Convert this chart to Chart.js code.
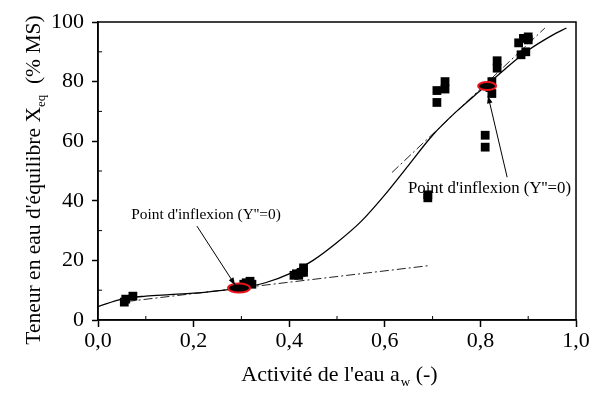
<!DOCTYPE html>
<html><head><meta charset="utf-8">
<script src="https://cdn.jsdelivr.net/npm/chart.js@4/dist/chart.umd.min.js"></script>
<style>html,body{margin:0;padding:0;background:#fff}#wrap{width:592px;height:398px}</style>
</head><body><div id="wrap"><canvas id="c" width="592" height="398"></canvas></div>
<script>
// Experimental points (aw, Xeq)
const pointsX = [0.055,0.058,0.073, 0.305,0.31,0.318,0.322, 0.41,0.415,0.42,0.425,0.43,0.43, 0.69,0.69, 0.709,0.709,0.726,0.726, 0.81,0.81,0.824,0.824,0.82, 0.835,0.835, 0.88,0.885,0.89,0.895,0.9,0.9];
const pointsY = [6,7,8, 12,12.5,13,12, 15,15.5,15,16,17.5,16, 41,42, 77,73,80,77.5, 62,58,80,76,78, 87,84.5, 93,89,94.5,90,95,94];
// Fitted curve
const curveX = [0,0.05,0.1,0.15,0.2,0.25,0.3,0.35,0.4,0.45,0.5,0.55,0.6,0.65,0.7,0.75,0.8,0.85,0.9,0.95,0.98];
const curveY = [4.5,7,8,8.5,9,9.8,10.8,12.5,15.5,20,26,33,42,52,62,70,77,84,90.5,95.5,98];
// Tangent lines at the inflection points
const tangent1X = [0.06,0.69];
const tangent1Y = [6.2,18.2];
const tangent2X = [0.615,0.935];
const tangent2Y = [49.5,98];
// Inflection points
const inflX = [0.295,0.814];
const inflY = [10.7,78.5];
// Annotation labels
const annoText = ["Point d'inflexion (Y''=0)","Point d'inflexion (Y''=0)"];
const annoPosX = [0.226,0.819];
const annoPosY = [35.2,44.2];
const annoSize = [15.4,16.8];
const arrowTailX = [0.207,0.856];
const arrowTailY = [31.5,47.9];
const arrowHeadX = [0.287,0.816];
const arrowHeadY = [11.7,75.2];
const xTicks = [0,0.2,0.4,0.6,0.8,1.0];
const yTicks = [0,20,40,60,80,100];

const FONT = "'Liberation Serif','Times New Roman',serif";
const toXY = (xs, ys) => xs.map((x,i)=>({x, y: ys[i]}));

const deco = {
  id:'deco',
  afterDatasetsDraw(chart){
    const {ctx, chartArea:a, scales:{x, y}} = chart;
    ctx.save();
    // frame
    ctx.strokeStyle='#000'; ctx.lineWidth=1.5;
    ctx.strokeRect(a.left, a.top, a.right-a.left, a.bottom-a.top);
    // minor ticks (inside)
    ctx.lineWidth=1;
    for(let v=0.1; v<1; v+=0.2){ const px=x.getPixelForValue(v); ctx.beginPath(); ctx.moveTo(px,a.bottom); ctx.lineTo(px,a.bottom-4); ctx.stroke(); }
    for(let v=10; v<100; v+=20){ const py=y.getPixelForValue(v); ctx.beginPath(); ctx.moveTo(a.left,py); ctx.lineTo(a.left+4,py); ctx.stroke(); }
    // ellipses
    const ew=[22,18], eh=[9,8];
    inflX.forEach((vx,i)=>{
      const px=x.getPixelForValue(vx), py=y.getPixelForValue(inflY[i]);
      ctx.beginPath(); ctx.ellipse(px,py,ew[i]/2,eh[i]/2,0,0,Math.PI*2);
      ctx.fillStyle='#000'; ctx.fill(); ctx.strokeStyle='#e8141c'; ctx.lineWidth=2; ctx.stroke();
    });
    // arrows
    ctx.strokeStyle='#000'; ctx.fillStyle='#000'; ctx.lineWidth=1;
    arrowTailX.forEach((vx,i)=>{
      const x1=x.getPixelForValue(vx), y1=y.getPixelForValue(arrowTailY[i]);
      const x2=x.getPixelForValue(arrowHeadX[i]), y2=y.getPixelForValue(arrowHeadY[i]);
      ctx.beginPath(); ctx.moveTo(x1,y1); ctx.lineTo(x2,y2); ctx.stroke();
      const ang=Math.atan2(y2-y1,x2-x1), L=8, w=0.35;
      ctx.beginPath(); ctx.moveTo(x2,y2);
      ctx.lineTo(x2-L*Math.cos(ang-w), y2-L*Math.sin(ang-w));
      ctx.lineTo(x2-L*Math.cos(ang+w), y2-L*Math.sin(ang+w));
      ctx.closePath(); ctx.fill();
    });
    // annotation texts
    ctx.textAlign='center'; ctx.textBaseline='middle';
    annoText.forEach((t,i)=>{
      ctx.font = annoSize[i]+"px "+FONT;
      ctx.fillText(t, x.getPixelForValue(annoPosX[i]), y.getPixelForValue(annoPosY[i]));
    });
    // x axis title with subscript
    ctx.textAlign='left'; ctx.textBaseline='alphabetic';
    const big="22px "+FONT, small="13px "+FONT;
    const p1="Activité de l'eau a", sub="w", p2=" (-)";
    ctx.font=big; const w1=ctx.measureText(p1).width, w3=ctx.measureText(p2).width;
    ctx.font=small; const w2=ctx.measureText(sub).width;
    let sx=(a.left+a.right)/2 - (w1+w2+w3)/2 + 2, by=381;
    ctx.font=big; ctx.fillText(p1,sx,by);
    ctx.font=small; ctx.fillText(sub,sx+w1+1,by+5);
    ctx.font=big; ctx.fillText(p2,sx+w1+w2+1,by);
    // y axis title
    ctx.save(); ctx.translate(40,(a.top+a.bottom)/2+9); ctx.rotate(-Math.PI/2);
    const bigY="21.5px "+FONT;
    const q1="Teneur en eau d'équilibre X", qs="eq", q2="  (% MS)";
    ctx.font=bigY; const v1=ctx.measureText(q1).width, v3=ctx.measureText(q2).width;
    ctx.font=small; const v2=ctx.measureText(qs).width;
    let tx=-(v1+v2+v3)/2;
    ctx.font=bigY; ctx.fillText(q1,tx,0);
    ctx.font=small; ctx.fillText(qs,tx+v1,5);
    ctx.font=bigY; ctx.fillText(q2,tx+v1+v2,0);
    ctx.restore();
    ctx.restore();
  }
};

new Chart(document.getElementById('c'), {
  type:'scatter',
  data:{datasets:[
    {data:toXY(tangent1X,tangent1Y), showLine:true, borderColor:'#222', borderWidth:1, borderDash:[9,3,2,3], pointRadius:0, order:3},
    {data:toXY(tangent2X,tangent2Y), showLine:true, borderColor:'#222', borderWidth:1, borderDash:[9,3,2,3], pointRadius:0, order:3},
    {data:toXY(curveX,curveY), showLine:true, borderColor:'#000', borderWidth:1.3, pointRadius:0, cubicInterpolationMode:'monotone', order:2},
    {data:toXY(pointsX,pointsY), showLine:false, pointStyle:'rect', pointRadius:6.2, backgroundColor:'#000', borderColor:'#000', borderWidth:0, order:1}
  ]},
  options:{
    responsive:false, animation:false, devicePixelRatio:1,
    layout:{padding:{left:0,top:22,right:16,bottom:0}},
    plugins:{legend:{display:false}, tooltip:{enabled:false}},
    scales:{
      x:{type:'linear', min:0, max:1, border:{display:true,color:'#000',width:1.5},
        grid:{drawOnChartArea:false, drawTicks:true, tickLength:7, color:'#000', tickWidth:1.5},
        afterBuildTicks:s=>{s.ticks=xTicks.map(v=>({value:v}));},
        afterFit:s=>{s.height=78;},
        ticks:{color:'#000', font:{family:FONT,size:22}, padding:1, maxRotation:0,
          callback:v=>v.toFixed(1).replace('.',',')}},
      y:{type:'linear', min:0, max:100, border:{display:true,color:'#000',width:1.5},
        grid:{drawOnChartArea:false, drawTicks:true, tickLength:6, color:'#000', tickWidth:1.5},
        afterBuildTicks:s=>{s.ticks=yTicks.map(v=>({value:v}));},
        afterFit:s=>{s.width=98;},
        ticks:{color:'#000', font:{family:FONT,size:22}, padding:8}}
    }
  },
  plugins:[deco]
});
</script></body></html>
